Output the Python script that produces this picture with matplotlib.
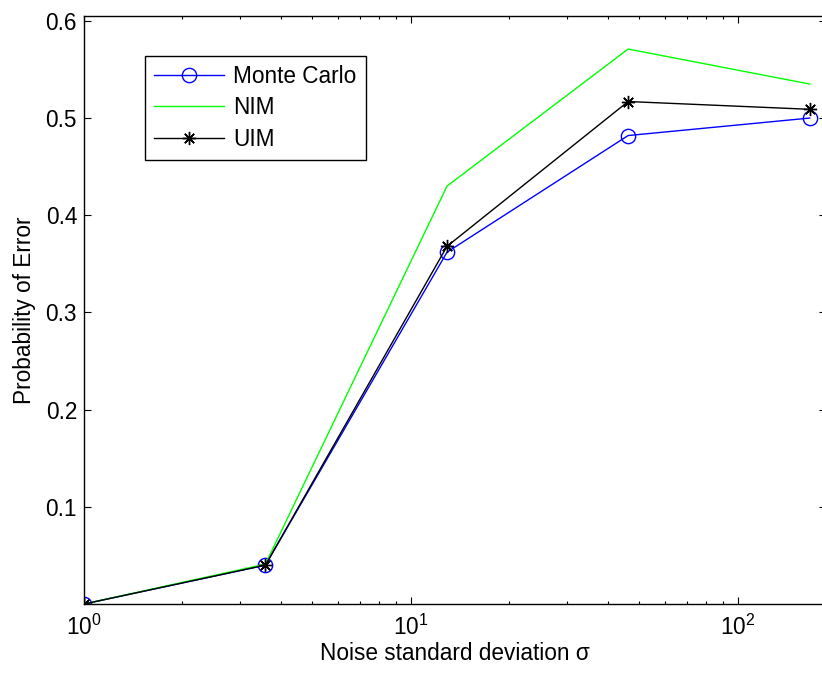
import numpy as np
import matplotlib.pyplot as plt
import matplotlib as mpl
from matplotlib.ticker import LogLocator, NullFormatter

mpl.rcParams["font.family"] = ["Liberation Sans", "DejaVu Sans"]
mpl.rcParams["font.size"] = 16.3
mpl.rcParams["mathtext.fontset"] = "custom"
mpl.rcParams["mathtext.rm"] = "Liberation Sans"

# ------------------------------------------------------------
# Data
# ------------------------------------------------------------
sigma = [1.0, 3.59, 12.9, 46.2, 166.0]
monte_carlo = [0.0, 0.040, 0.362, 0.482, 0.500]
nim = [0.0, 0.041, 0.430, 0.571, 0.535]
uim = [0.0, 0.040, 0.368, 0.517, 0.509]
y_ticks = [0.1, 0.2, 0.3, 0.4, 0.5, 0.6]

# ------------------------------------------------------------
# Plot
# ------------------------------------------------------------
fig = plt.figure(figsize=(8.22, 6.73), dpi=100)
ax = fig.add_axes([84 / 822, 69 / 673, 742 / 822, 588 / 673])

ax.plot(sigma, monte_carlo, color="blue", lw=1.0, marker="o", ms=10.3,
        mfc="none", mec="blue", mew=1.0, label="Monte Carlo")
ax.plot(sigma, nim, color="#00ff00", lw=1.0, label="NIM")
ax.plot(sigma, uim, color="black", lw=1.0, marker=(8, 2, 0), ms=9.5, mew=1.0, label="UIM")

ax.set_xscale("log")
ax.set_xlim(1, 10 ** 2.27)
ax.set_ylim(0, 0.605)
ax.set_yticks(y_ticks)
ax.set_yticklabels([f"{v:.1f}" for v in y_ticks])
ax.xaxis.set_minor_locator(LogLocator(base=10, subs=np.arange(2, 10)))
ax.xaxis.set_minor_formatter(NullFormatter())

ax.tick_params(which="both", direction="in", top=True, right=True, width=0.8)
ax.tick_params(axis="y", pad=5)
ax.tick_params(axis="x", pad=8)
ax.tick_params(which="major", length=5)
ax.tick_params(which="minor", length=2.5)
for s in ax.spines.values():
    s.set_linewidth(1.0)

ax.set_xlabel("Noise standard deviation σ", labelpad=1)
ax.set_ylabel("Probability of Error", labelpad=7)

leg = ax.legend(loc="upper left", bbox_to_anchor=(0.0822, 0.9325), borderaxespad=0,
                fancybox=False, framealpha=1, edgecolor="black", handlelength=3.1,
                handletextpad=0.4, labelspacing=0.38, borderpad=0.4)
leg.get_frame().set_linewidth(1.0)

fig.savefig("out.png", dpi=100)
